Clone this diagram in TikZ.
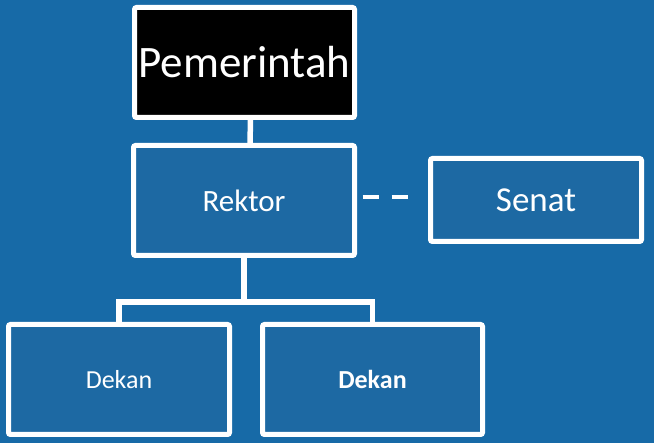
\documentclass[tikz,border=0pt]{standalone}
\usepackage{fontspec}
\setmainfont{Carlito}
\usetikzlibrary{calc}
\definecolor{bgblue}{RGB}{23,106,167}
\definecolor{boxblue}{RGB}{29,105,163}
\tikzset{
  orgbox/.style={draw=white, line width=5pt, rounded corners=2pt, fill=boxblue,
    text=white, inner sep=0pt, outer sep=0pt, align=center},
  link/.style={draw=white, line width=5.5pt},
  dashlink/.style={draw=white, line width=4pt, dash pattern=on 16pt off 13pt,
    shorten <=8pt, shorten >=18pt}
}
\begin{document}
\begin{tikzpicture}[x=1pt,y=-1pt]
\fill[bgblue] (0,0) rectangle (654,443);
\useasboundingbox (0,0) rectangle (654,443);
\node[orgbox, fill=black, minimum width=220pt, minimum height=110pt, font=\fontsize{45}{50}\selectfont] (pem) at (244.5,62.5) {Pemerintah};
\node[orgbox, minimum width=221pt, minimum height=110pt, font=\fontsize{31}{36}\selectfont] (rek) at (244,200.5) {Rektor};
\node[orgbox, minimum width=211pt, minimum height=83pt, font=\fontsize{35}{40}\selectfont] (sen) at (536,200) {Senat};
\node[orgbox, minimum width=221pt, minimum height=110pt, font=\fontsize{26}{30}\selectfont] (d1) at (119,379.5) {Dekan};
\node[orgbox, minimum width=220pt, minimum height=110pt, font=\fontsize{26}{30}\selectfont\bfseries] (d2) at (372.5,379.5) {Dekan};
\coordinate (bar) at (244,302);
\draw[link] ([xshift=6pt]pem.south) -- ([xshift=6pt]rek.north);
\draw[link] (rek.south) -- (bar);
\draw[link] (d1.north) |- (bar) -| (d2.north);
\draw[dashlink] ([yshift=3pt]rek.east) -- ([yshift=3pt]rek.east -| sen.west);
\end{tikzpicture}
\end{document}
